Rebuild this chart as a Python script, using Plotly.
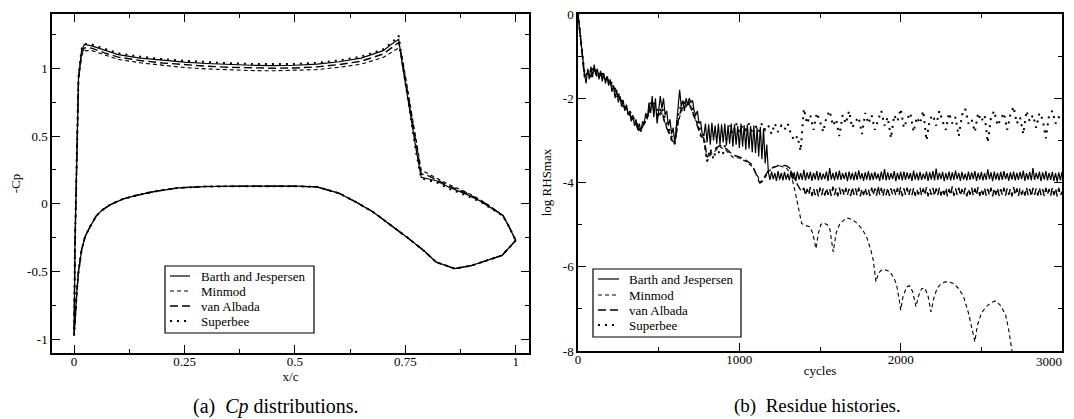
import plotly.graph_objects as go

# The page body keeps an 8 px margin, so the figure is 8 px smaller on each axis
# and every layout position below is given in window pixels minus that offset.
WIN_W, WIN_H = 1074, 419
OFF = 8
W, H = WIN_W - OFF, WIN_H - OFF
FONT = "Liberation Serif"

# ---------------- (a) Cp distributions ----------------
x_upper = [0, 0.002, 0.006, 0.01, 0.017, 0.023, 0.04, 0.07, 0.1, 0.15, 0.2, 0.25, 0.3,
           0.35, 0.4, 0.45, 0.5, 0.55, 0.6, 0.65, 0.7, 0.72, 0.735, 0.742, 0.75, 0.76,
           0.775, 0.786, 0.8, 0.82, 0.85, 0.889, 0.92, 0.943, 0.971, 0.985, 1.0]
x_lower = [0, 0.003, 0.006, 0.01, 0.017, 0.025, 0.036, 0.05, 0.062, 0.08, 0.093, 0.11,
           0.138, 0.18, 0.236, 0.3, 0.4, 0.5, 0.55, 0.6, 0.64, 0.677, 0.715, 0.753, 0.79,
           0.82, 0.862, 0.9, 0.969, 1.0]
cp_lower = [-0.97, -0.82, -0.66, -0.5, -0.34, -0.24, -0.17, -0.09, -0.05, -0.01, 0.01, 0.035,
            0.06, 0.09, 0.118, 0.128, 0.13, 0.13, 0.125, 0.078, 0.01, -0.06, -0.15, -0.245,
            -0.34, -0.43, -0.478, -0.455, -0.38, -0.27]
cp_barth = [-0.97, -0.3, 0.45, 0.93, 1.13, 1.175, 1.165, 1.13, 1.1, 1.075, 1.058, 1.045, 1.035,
            1.027, 1.022, 1.02, 1.022, 1.03, 1.048, 1.075, 1.13, 1.18, 1.213, 1.05, 0.9, 0.69,
            0.39, 0.196, 0.185, 0.17, 0.12, 0.07, 0.02, -0.025, -0.086, -0.17, -0.27]
cp_minmod = [-0.97, -0.3, 0.42, 0.9, 1.09, 1.13, 1.13, 1.095, 1.065, 1.04, 1.02, 1.005, 0.995,
             0.988, 0.983, 0.981, 0.983, 0.99, 1.007, 1.03, 1.08, 1.12, 1.15, 1.1, 0.95, 0.74,
             0.45, 0.25, 0.225, 0.19, 0.14, 0.085, 0.03, -0.02, -0.086, -0.17, -0.27]
cp_albada = [-0.97, -0.3, 0.44, 0.92, 1.11, 1.15, 1.148, 1.112, 1.082, 1.057, 1.039, 1.025, 1.015,
             1.007, 1.002, 1.0, 1.002, 1.01, 1.027, 1.052, 1.105, 1.15, 1.19, 1.08, 0.92, 0.71,
             0.42, 0.22, 0.21, 0.18, 0.13, 0.078, 0.025, -0.022, -0.086, -0.17, -0.27]
cp_superbee = [-0.97, -0.3, 0.46, 0.95, 1.14, 1.18, 1.175, 1.14, 1.11, 1.085, 1.067, 1.055, 1.045,
               1.037, 1.032, 1.03, 1.032, 1.04, 1.058, 1.085, 1.14, 1.19, 1.24, 1.07, 0.9, 0.68,
               0.37, 0.19, 0.175, 0.16, 0.11, 0.06, 0.015, -0.03, -0.09, -0.17, -0.27]

# ---------------- (b) Residue histories ----------------
barth_cycles = list(range(0, 3001, 10))
barth_res = [
    0.0, -0.4, -0.75, -1.05, -1.4, -1.65, -1.3, -1.55, -1.25, -1.5,
    -1.2, -1.45, -1.3, -1.55, -1.35, -1.6, -1.4, -1.65, -1.5, -1.7,
    -1.55, -1.85, -1.7, -2.0, -1.8, -2.1, -1.95, -2.2, -2.05, -2.3,
    -2.15, -2.4, -2.3, -2.55, -2.4, -2.65, -2.5, -2.75, -2.6, -2.8,
    -2.55, -2.6, -2.35, -2.5, -2.1, -2.35, -1.95, -2.45, -2.0, -2.6,
    -2.3, -1.95, -2.25, -2.0, -2.4, -2.3, -2.65, -2.5, -2.85, -2.7,
    -3.08, -2.6, -2.1, -1.8, -2.2, -2.05, -2.3, -2.0, -2.15, -2.0,
    -2.1, -2.05, -2.3, -2.4, -2.3, -2.6, -2.55, -2.85,
    -2.9, -2.6, -3.05, -2.62, -3.1, -2.58, -3.0, -2.65, -3.08, -2.6,
    -3.1, -2.62, -3.05, -2.6, -3.12, -2.64, -3.08, -2.6, -3.15, -2.62,
    -3.1, -2.66, -3.18, -2.6, -3.15, -2.64, -3.22, -2.62, -3.2, -2.66,
    -3.28, -2.65, -3.3, -2.7, -3.38, -2.68, -3.45, -2.72, -3.55, -3.1,
    -3.76, -3.94, -3.74, -3.92, -3.78, -3.96, -3.73, -3.93, -3.77, -3.95,
    -3.75, -3.93, -3.79, -3.95, -3.72, -3.92, -3.76, -3.97, -3.74, -3.93,
    -3.78, -3.94, -3.70, -3.95, -3.76, -3.92, -3.75, -3.96, -3.77, -3.93,
    -3.73, -3.95, -3.76, -3.94, -3.79, -3.92, -3.74, -3.96, -3.66, -3.93,
    -3.77, -3.95, -3.75, -3.93, -3.72, -3.94, -3.78, -3.92, -3.76, -3.97,
    -3.74, -3.93, -3.77, -3.95, -3.75, -3.94, -3.71, -3.92, -3.78, -3.96,
    -3.76, -3.93, -3.73, -3.95, -3.77, -3.94, -3.75, -3.92, -3.79, -3.96,
    -3.74, -3.93, -3.68, -3.95, -3.76, -3.94, -3.78, -3.92, -3.73, -3.97,
    -3.77, -3.93, -3.75, -3.95, -3.74, -3.94, -3.76, -3.92, -3.78, -3.96,
    -3.72, -3.93, -3.77, -3.95, -3.75, -3.94, -3.79, -3.92, -3.74, -3.96,
    -3.76, -3.93, -3.73, -3.95, -3.67, -3.94, -3.77, -3.92, -3.75, -3.97,
    -3.78, -3.93, -3.74, -3.95, -3.76, -3.94, -3.72, -3.92, -3.77, -3.96,
    -3.75, -3.93, -3.79, -3.95, -3.74, -3.94, -3.76, -3.92, -3.73, -3.96,
    -3.77, -3.93, -3.75, -3.95, -3.78, -3.94, -3.69, -3.92, -3.76, -3.97,
    -3.74, -3.93, -3.77, -3.95, -3.75, -3.94, -3.73, -3.92, -3.78, -3.96,
    -3.76, -3.93, -3.74, -3.95, -3.77, -3.94, -3.75, -3.92, -3.72, -3.96,
    -3.78, -3.93, -3.75, -3.95, -3.66, -3.94, -3.77, -3.92, -3.74, -3.97,
    -3.76, -3.93, -3.73, -3.95, -3.77, -3.94, -3.75, -3.96, -3.78, -3.98,
    -3.76, -3.95, -3.75]

minmod_cycles = list(range(0, 780, 20)) + [
    780, 800, 820, 850, 880, 920, 960, 1000, 1040, 1080, 1110, 1135, 1150, 1180, 1210, 1250,
    1290, 1320, 1345, 1365, 1386, 1410, 1437, 1455, 1475, 1490, 1505, 1520, 1545, 1561, 1582,
    1600, 1624, 1665, 1700, 1727, 1760, 1789, 1815, 1830, 1847, 1862, 1882, 1910, 1934, 1960,
    1975, 1990, 2000, 2015, 2037, 2055, 2075, 2095, 2110, 2130, 2150, 2170, 2188, 2205, 2225,
    2250, 2276, 2300, 2328, 2360, 2390, 2421, 2447, 2460, 2475, 2500, 2530, 2560, 2588, 2620,
    2651, 2670, 2690]
minmod_res = [
    0.0, -0.75, -1.45, -1.4, -1.45, -1.35, -1.5, -1.45, -1.55, -1.55,
    -1.65, -1.75, -1.9, -2.0, -2.15, -2.25, -2.35, -2.5, -2.6, -2.75,
    -2.7, -2.55, -2.35, -2.2, -2.3, -2.45, -2.35, -2.6, -2.75, -2.95,
    -3.1, -2.6, -2.3, -2.25, -2.15, -2.25, -2.45, -2.6, -2.85,
    -3.0, -3.5, -3.35, -3.25, -3.15, -3.25, -3.4, -3.42, -3.5, -3.62, -3.82, -4.0, -3.95,
    -3.75, -3.63, -3.6, -3.65, -3.8, -4.2, -4.6, -4.97, -5.02, -5.05, -5.2, -5.57, -5.2,
    -5.0, -4.96, -5.0, -5.1, -5.65, -5.2, -4.97, -4.84, -4.88, -4.96, -5.1, -5.29, -5.6,
    -5.84, -6.36, -6.15, -6.08, -6.08, -6.12, -6.28, -6.44, -6.75, -7.03, -6.7, -6.48,
    -6.45, -6.6, -6.95, -6.7, -6.52, -6.5, -6.7, -7.07, -6.75, -6.52, -6.4, -6.36, -6.36,
    -6.4, -6.52, -6.71, -7.11, -7.6, -7.78, -7.4, -7.1, -6.95, -6.85, -6.81, -6.92, -7.15,
    -7.5, -8.0]

albada_cycles = list(range(0, 780, 20)) + [
    780, 800, 820, 850, 880, 920, 960, 1000, 1040, 1080, 1107, 1127, 1150, 1180, 1200, 1251,
    1290, 1313, 1344, 1366, 1386] + list(range(1400, 3001, 10))
albada_res = [
    0.0, -0.72, -1.5, -1.38, -1.5, -1.3, -1.48, -1.4, -1.58, -1.5,
    -1.68, -1.72, -1.95, -1.98, -2.2, -2.22, -2.4, -2.48, -2.65, -2.78,
    -2.68, -2.5, -2.3, -2.15, -2.35, -2.4, -2.3, -2.62, -2.8, -3.0,
    -3.05, -2.55, -2.25, -2.2, -2.12, -2.2, -2.42, -2.65, -2.9,
    -2.95, -3.4, -3.3, -3.2, -3.12, -3.2, -3.35, -3.39, -3.47, -3.58, -3.82, -4.02, -3.9,
    -3.72, -3.66, -3.59, -3.6, -3.66, -3.94, -4.1, -4.22,
    -4.13, -4.31, -4.15, -4.29, -4.11, -4.32, -4.14, -4.30, -4.16, -4.33,
    -4.12, -4.30, -4.14, -4.31, -4.13, -4.29, -4.15, -4.32, -4.10, -4.30,
    -4.14, -4.33, -4.12, -4.29, -4.16, -4.31, -4.13, -4.30, -4.15, -4.32,
    -4.11, -4.29, -4.14, -4.31, -4.12, -4.33, -4.15, -4.30, -4.13, -4.29,
    -4.16, -4.32, -4.12, -4.30, -4.14, -4.31, -4.08, -4.29, -4.13, -4.33,
    -4.15, -4.30, -4.12, -4.32, -4.14, -4.29, -4.16, -4.31, -4.13, -4.30,
    -4.11, -4.33, -4.14, -4.29, -4.12, -4.31, -4.15, -4.30, -4.13, -4.32,
    -4.16, -4.29, -4.12, -4.31, -4.14, -4.30, -4.11, -4.33, -4.15, -4.29,
    -4.13, -4.32, -4.14, -4.30, -4.12, -4.31, -4.16, -4.29, -4.13, -4.33,
    -4.15, -4.30, -4.09, -4.32, -4.14, -4.29, -4.12, -4.31, -4.16, -4.30,
    -4.13, -4.33, -4.15, -4.29, -4.12, -4.31, -4.14, -4.30, -4.11, -4.32,
    -4.16, -4.29, -4.13, -4.31, -4.15, -4.30, -4.12, -4.33, -4.14, -4.29,
    -4.13, -4.32, -4.16, -4.30, -4.12, -4.31, -4.14, -4.29, -4.15, -4.33,
    -4.11, -4.30, -4.14, -4.32, -4.13, -4.29, -4.16, -4.31, -4.12, -4.30,
    -4.15, -4.33, -4.13, -4.29, -4.14, -4.31, -4.12, -4.30, -4.16, -4.32,
    -4.13, -4.29, -4.15, -4.31, -4.12, -4.30, -4.14, -4.33, -4.13, -4.31,
    -4.22]

superbee_cycles = list(range(0, 3001, 20))
superbee_res = [
    0.0, -0.7, -1.4, -1.35, -1.4, -1.25, -1.45, -1.35, -1.5, -1.5,
    -1.6, -1.7, -1.85, -1.95, -2.1, -2.2, -2.3, -2.45, -2.55, -2.75,
    -2.65, -2.5, -2.25, -2.05, -2.2, -2.35, -2.2, -2.5, -2.7, -2.9,
    -3.05, -2.4, -2.15, -2.1, -2.05, -2.15, -2.35, -2.55, -2.75,
    -2.9, -3.5, -3.2, -3.45, -3.15, -3.35, -3.3, -3.0, -2.65, -2.85,
    -2.6, -2.8, -2.65, -2.75, -2.6, -2.85, -2.65, -2.8, -2.6, -2.75,
    -2.65, -2.85, -2.6, -2.8, -2.65, -2.75, -2.6, -2.85, -3.0, -2.9, -3.25,
    -2.25, -2.6, -2.4, -2.75, -2.35, -2.55, -2.8, -2.45, -2.3, -2.65,
    -2.5, -2.9, -2.4, -2.6, -2.3, -2.7, -2.55, -2.45, -2.85, -2.35,
    -2.6, -2.4, -2.75, -2.5, -2.3, -2.65, -2.45, -2.95, -2.4, -2.55,
    -2.25, -2.7, -2.5, -2.35, -2.8, -2.45, -2.6, -2.3, -3.0, -2.5,
    -2.4, -2.65, -2.3, -2.55, -2.75, -2.35, -2.6, -2.45, -2.9, -2.4,
    -2.25, -2.6, -2.5, -2.8, -2.35, -2.55, -2.4, -3.05, -2.45, -2.3,
    -2.65, -2.5, -2.35, -2.75, -2.4, -2.2, -2.6, -2.45, -2.85, -2.3,
    -2.55, -2.4, -2.7, -2.35, -2.5, -2.95, -2.4, -2.3, -2.6, -2.45, -2.5]

series_names = ["Barth and Jespersen", "Minmod", "van Albada", "Superbee"]
dash_styles = ["solid", "4px,3px", "8px,4px", "2px,5px"]
line_widths = [1.2, 1.1, 1.4, 2.0]

cycle_ticks = [0, 1000, 2000, 3000]
cycle_labels = ["0", "1000", "2000", "3000"]

fig = go.Figure()

cp_series = [cp_barth, cp_minmod, cp_albada, cp_superbee]
for name, cp, dsh, lw in zip(series_names, cp_series, dash_styles, line_widths):
    fig.add_trace(go.Scatter(
        x=x_lower[::-1] + x_upper, y=cp_lower[::-1] + cp,
        mode="lines", name=name, showlegend=False,
        line=dict(color="black", width=lw, dash=dsh),
        xaxis="x", yaxis="y"))

res_series = [(barth_cycles, barth_res), (minmod_cycles, minmod_res),
              (albada_cycles, albada_res), (superbee_cycles, superbee_res)]
for name, (cx, cy), dsh, lw in zip(series_names, res_series, dash_styles, line_widths):
    fig.add_trace(go.Scatter(
        x=cx, y=cy, mode="lines", name=name, showlegend=False,
        line=dict(color="black", width=lw, dash=dsh),
        xaxis="x2", yaxis="y2"))


def px(x):
    return (x - OFF) / W


def py(y):
    return 1 - (y - OFF) / H


axis_common = dict(
    showline=True, linecolor="black", linewidth=1.5, mirror="ticks",
    ticks="inside", ticklen=8, tickwidth=1, tickcolor="black",
    showgrid=False, zeroline=False, ticklabeloverflow="allow", automargin=False,
    tickfont=dict(family=FONT, size=13, color="black"),
)
title_font = dict(family=FONT, size=13, color="black")

fig.update_layout(
    width=W, height=H,
    margin=dict(l=0, r=0, t=0, b=0),
    paper_bgcolor="white", plot_bgcolor="white",
    font=dict(family=FONT, size=13, color="black"),
    showlegend=False,
    xaxis=dict(axis_common, domain=[px(52), px(529)], range=[-0.05, 1.03],
               tickmode="array", tickvals=[0, 0.25, 0.5, 0.75, 1],
               ticktext=["0", "0.25", "0.5", "0.75", "1"], ticklabelstandoff=-4,
               minor=dict(tickmode="array", tickvals=[0.125, 0.375, 0.625, 0.875],
                          ticks="inside", ticklen=4, tickcolor="black"),
               title=dict(text="x/c", font=title_font, standoff=0),
               anchor="y"),
    yaxis=dict(axis_common, domain=[py(353), py(14)], range=[-1.1, 1.4],
               tickmode="array", tickvals=[-1, -0.5, 0, 0.5, 1],
               ticktext=["-1", "-0.5", "0", "0.5", "1"],
               minor=dict(tickmode="array", tickvals=[-0.75, -0.25, 0.25, 0.75, 1.25],
                          ticks="inside", ticklen=4, tickcolor="black"),
               title=dict(text="-Cp", font=title_font, standoff=14),
               anchor="x"),
    # the last cycle label would be clipped at the page edge, so it is written as an
    # annotation right-aligned at the end of the axis (see below)
    xaxis2=dict(axis_common, domain=[px(578), px(1062)], range=[0, 3000],
                tickmode="array", tickvals=cycle_ticks,
                ticktext=cycle_labels[:-1] + [""], ticklabelstandoff=-4,
                minor=dict(tickmode="array", tickvals=[500, 1500, 2500],
                           ticks="inside", ticklen=4, tickcolor="black"),
                title=dict(text="cycles", font=title_font, standoff=0),
                anchor="y2"),
    yaxis2=dict(axis_common, domain=[py(351), py(14)], range=[-8, 0],
                tickmode="array", tickvals=[-8, -6, -4, -2, 0],
                ticktext=["-8", "-6", "-4", "-2", "0"],
                minor=dict(tickmode="array", tickvals=[-7, -5, -3, -1],
                           ticks="inside", ticklen=4, tickcolor="black"),
                title=dict(text="log RHSmax", font=title_font, standoff=8),
                anchor="x2"),
)

# ---- legends (drawn as boxes, sample lines and text) ----
shapes = []
annotations = []


def add_legend(x0, y0, x1, y1, sx0, sx1, tx, rows):
    shapes.append(dict(type="rect", xref="paper", yref="paper",
                       x0=px(x0), x1=px(x1), y0=py(y1), y1=py(y0),
                       line=dict(color="black", width=1.2), fillcolor="white", layer="above"))
    for name, dsh, lw, ry in zip(series_names, dash_styles, line_widths, rows):
        shapes.append(dict(type="line", xref="paper", yref="paper",
                           x0=px(sx0), x1=px(sx1), y0=py(ry), y1=py(ry),
                           line=dict(color="black", width=lw, dash=dsh), layer="above"))
        annotations.append(dict(xref="paper", yref="paper", x=px(tx), y=py(ry),
                                xanchor="left", yanchor="middle", text=name, showarrow=False,
                                font=dict(family=FONT, size=13, color="black")))


add_legend(165, 266, 314, 333, 170, 190, 199, [276, 291, 306, 321])
add_legend(593, 269, 741, 337, 598, 619, 627, [279, 295, 310, 325])

annotations.append(dict(xref="x2", yref="paper", x=cycle_ticks[-1], y=py(361),
                        xanchor="right", xshift=2, yanchor="middle", showarrow=False,
                        text=cycle_labels[-1],
                        font=dict(family=FONT, size=13, color="black")))

annotations.append(dict(xref="paper", yref="paper", x=px(276), y=py(406),
                        xanchor="center", yanchor="middle", showarrow=False,
                        text="(a)  <i>Cp</i> distributions.",
                        font=dict(family=FONT, size=20, color="black")))
annotations.append(dict(xref="paper", yref="paper", x=px(817), y=py(406),
                        xanchor="center", yanchor="middle", showarrow=False,
                        text="(b)  Residue histories.",
                        font=dict(family=FONT, size=19, color="black")))

fig.update_layout(shapes=shapes, annotations=annotations)

fig.write_html("out.html")
